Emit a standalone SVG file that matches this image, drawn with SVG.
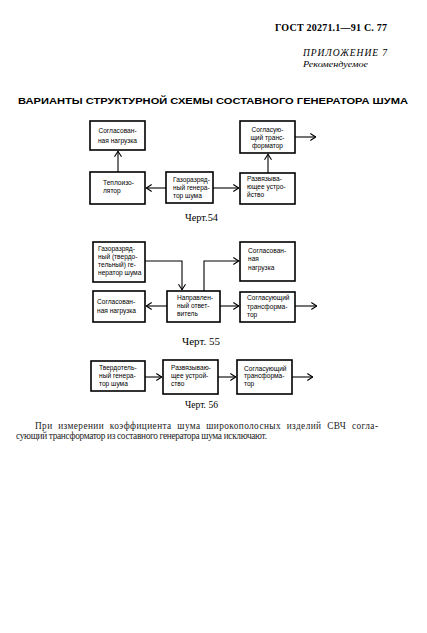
<svg xmlns="http://www.w3.org/2000/svg" width="427" height="633" viewBox="0 0 427 633">
<defs>
<style>
.box{fill:#fff;stroke:#000;stroke-width:1.6}
.ln{fill:none;stroke:#000;stroke-width:1.1}
.t{font-family:"Liberation Sans",Arial,sans-serif;font-size:6.6px;fill:#000}
.c{text-anchor:middle}
.cap{font-family:"Liberation Serif","Times New Roman",serif;font-size:9.5px;fill:#000}
.hdr{font-family:"Liberation Serif","Times New Roman",serif;fill:#000}
.body{font-family:"Liberation Serif","Times New Roman",serif;font-size:9.3px;fill:#222}
</style>
<marker id="ah" viewBox="0 0 6 8" refX="6" refY="4" markerWidth="6" markerHeight="8" markerUnits="userSpaceOnUse" orient="auto">
<path d="M0.3,0.5 L5.7,4 L0.3,7.5" fill="none" stroke="#000" stroke-width="1.1"/>
</marker>
</defs>
<rect width="427" height="633" fill="#fff"/>

<g id="header">
<text class="hdr" x="275" y="31" font-size="10" font-weight="bold" textLength="112" lengthAdjust="spacing">ГОСТ 20271.1—91 С. 77</text>
<text class="hdr" x="303" y="56" font-size="9.5" font-style="italic" textLength="84" lengthAdjust="spacing">ПРИЛОЖЕНИЕ 7</text>
<text class="hdr" x="303" y="67" font-size="9" font-style="italic" textLength="65" lengthAdjust="spacingAndGlyphs">Рекомендуемое</text>
<text x="18" y="104" font-family="Liberation Sans,Arial,sans-serif" font-size="9.5" font-weight="bold" textLength="390" lengthAdjust="spacingAndGlyphs">ВАРИАНТЫ  СТРУКТУРНОЙ  СХЕМЫ  СОСТАВНОГО  ГЕНЕРАТОРА  ШУМА</text>
</g>

<g id="connectors">
<path class="ln" d="M166,188 H146" marker-end="url(#ah)"/>
<path class="ln" d="M213,188 H239" marker-end="url(#ah)"/>
<path class="ln" d="M118,172 V151" marker-end="url(#ah)"/>
<path class="ln" d="M268,173 V154" marker-end="url(#ah)"/>
<path class="ln" d="M295,137 H316" marker-end="url(#ah)"/>

<path class="ln" d="M145,261 H182 V290" marker-end="url(#ah)"/>
<path class="ln" d="M204,291 V261 H239" marker-end="url(#ah)"/>
<path class="ln" d="M167,306 H146" marker-end="url(#ah)"/>
<path class="ln" d="M220,306 H239" marker-end="url(#ah)"/>
<path class="ln" d="M295,306 H317" marker-end="url(#ah)"/>

<path class="ln" d="M145,377 H162" marker-end="url(#ah)"/>
<path class="ln" d="M218,377 H236" marker-end="url(#ah)"/>
<path class="ln" d="M292,377 H313" marker-end="url(#ah)"/>
</g>

<g id="n54a"><rect class="box" x="90" y="121" width="55" height="29"/>
<text class="t c" x="117.5" y="133">Согласован-</text><text class="t c" x="117.5" y="143">ная нагрузка</text></g>
<g id="n54b"><rect class="box" x="240" y="121" width="55" height="32"/>
<text class="t c" x="267.5" y="132">Согласую-</text><text class="t c" x="267.5" y="140">щий транс-</text><text class="t c" x="267.5" y="148">форматор</text></g>
<g id="n54c"><rect class="box" x="90" y="172" width="55" height="32"/>
<text class="t" x="103" y="185">Теплоизо-</text><text class="t" x="103" y="193">лятор</text></g>
<g id="n54d"><rect class="box" x="166" y="172" width="47" height="31"/>
<text class="t" x="173" y="182">Газоразряд-</text><text class="t" x="173" y="190">ный генера-</text><text class="t" x="173" y="198">тор шума</text></g>
<g id="n54e"><rect class="box" x="240" y="173" width="55" height="31"/>
<text class="t" x="247" y="181">Развязыва-</text><text class="t" x="247" y="189">ющее устро-</text><text class="t" x="247" y="197">йство</text></g>
<text class="cap" x="185" y="221" textLength="33" lengthAdjust="spacingAndGlyphs">Черт.54</text>

<g id="n55a"><rect class="box" x="93" y="242" width="52" height="40"/>
<text class="t" x="98" y="251">Газоразряд-</text><text class="t" x="98" y="259">ный (твердо-</text><text class="t" x="98" y="267">тельный) ге-</text><text class="t" x="98" y="275">нератор шума</text></g>
<g id="n55b"><rect class="box" x="240" y="242" width="55" height="39"/>
<text class="t" x="248" y="253">Согласован-</text><text class="t" x="248" y="261">ная</text><text class="t" x="248" y="270">нагрузка</text></g>
<g id="n55c"><rect class="box" x="93" y="291" width="52" height="31"/>
<text class="t" x="97" y="304">Согласован-</text><text class="t" x="97" y="313">ная нагрузка</text></g>
<g id="n55d"><rect class="box" x="167" y="291" width="53" height="31"/>
<text class="t" x="177" y="300">Направлен-</text><text class="t" x="177" y="308">ный ответ-</text><text class="t" x="177" y="316">витель</text></g>
<g id="n55e"><rect class="box" x="240" y="292" width="55" height="30"/>
<text class="t" x="247" y="300">Согласующий</text><text class="t" x="247" y="309">трансформа-</text><text class="t" x="247" y="317">тор</text></g>
<text class="cap" x="182" y="345" textLength="38" lengthAdjust="spacingAndGlyphs">Черт. 55</text>

<g id="n56a"><rect class="box" x="91" y="361" width="54" height="30"/>
<text class="t" x="99" y="370">Твердотель-</text><text class="t" x="99" y="378">ный генера-</text><text class="t" x="99" y="386">тор шума</text></g>
<g id="n56b"><rect class="box" x="163" y="360" width="55" height="34"/>
<text class="t" x="171" y="370">Развязываю-</text><text class="t" x="171" y="378">щее устрой-</text><text class="t" x="171" y="386">ство</text></g>
<g id="n56c"><rect class="box" x="237" y="360" width="55" height="34"/>
<text class="t" x="244" y="371">Согласующий</text><text class="t" x="244" y="378">трансформа-</text><text class="t" x="244" y="386">тор</text></g>
<text class="cap" x="185" y="408" textLength="33" lengthAdjust="spacingAndGlyphs">Черт. 56</text>

<g id="note">
<text class="body" x="35" y="429" textLength="343" lengthAdjust="spacing" word-spacing="3">При измерении коэффициента шума широкополосных изделий СВЧ согла-</text>
<text class="body" x="16" y="439" textLength="251" lengthAdjust="spacing">сующий трансформатор из составного генератора шума исключают.</text>
</g>
</svg>
